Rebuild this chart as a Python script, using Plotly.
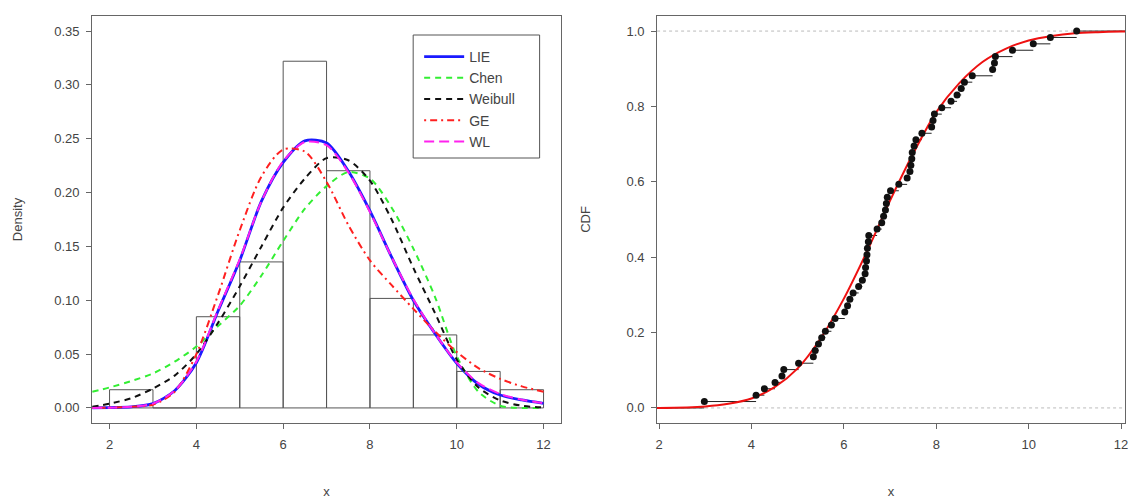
import plotly.graph_objects as go

# ---------------- data ----------------
# Left panel: histogram (density) with bins of width 1
hist_left_edges = [2, 3, 4, 5, 6, 7, 8, 9, 10, 11]
hist_density = [0.0169, 0.0, 0.0847, 0.1356, 0.3220, 0.2203, 0.1017, 0.0678, 0.0339, 0.0169]

# Fitted densities
dens_x = [1.6, 2, 2.5, 3, 3.5, 4, 4.5, 5, 5.5, 6, 6.5, 7, 7.5, 8, 8.5, 9, 9.5, 10, 10.5, 11, 11.5, 12]
pdf_lie = [0.0, 0.0003, 0.001, 0.004, 0.016, 0.042, 0.090, 0.137, 0.192, 0.228, 0.248, 0.246,
           0.220, 0.183, 0.140, 0.100, 0.069, 0.0415, 0.022, 0.012, 0.0074, 0.0043]
pdf_chen = [0.015, 0.019, 0.025, 0.032, 0.043, 0.057, 0.076, 0.095, 0.123, 0.155, 0.185, 0.206,
            0.219, 0.213, 0.186, 0.148, 0.103, 0.048, 0.015, 0.002, 0.0, 0.0]
pdf_weibull = [0.001, 0.004, 0.009, 0.018, 0.030, 0.050, 0.079, 0.113, 0.150, 0.186, 0.213, 0.232,
               0.230, 0.211, 0.175, 0.130, 0.088, 0.045, 0.019, 0.007, 0.002, 0.0005]
pdf_ge = [0.0, 0.0003, 0.001, 0.003, 0.015, 0.050, 0.105, 0.165, 0.215, 0.240, 0.238, 0.210,
          0.170, 0.137, 0.114, 0.092, 0.071, 0.052, 0.037, 0.027, 0.020, 0.015]
pdf_wl = [0.0, 0.0002, 0.001, 0.004, 0.016, 0.043, 0.091, 0.138, 0.192, 0.229, 0.247, 0.244,
          0.219, 0.182, 0.140, 0.101, 0.069, 0.042, 0.023, 0.013, 0.0076, 0.0045]

# Right panel: sorted observations (empirical CDF) and fitted CDF
ecdf_x = [2.98, 4.10, 4.28, 4.51, 4.66, 4.70, 5.02, 5.34, 5.38, 5.45, 5.52, 5.60, 5.73, 5.81,
          6.02, 6.08, 6.13, 6.20, 6.32, 6.40, 6.46, 6.47, 6.49, 6.50, 6.51, 6.53, 6.54, 6.72,
          6.82, 6.86, 6.90, 6.92, 6.94, 7.01, 7.19, 7.37, 7.43, 7.45, 7.47, 7.48, 7.52, 7.56,
          7.69, 7.90, 7.93, 7.96, 8.12, 8.32, 8.45, 8.54, 8.61, 8.78, 9.22, 9.26, 9.28, 9.65,
          10.10, 10.47, 11.04]
cdf_x = [1.95, 2, 3, 3.5, 4, 4.5, 5, 5.5, 6, 6.5, 7, 7.5, 8, 8.5, 9, 9.5, 10, 10.5, 11, 11.5, 12, 12.1]
cdf_lie = [0.0, 0.0, 0.004, 0.011, 0.025, 0.055, 0.105, 0.185, 0.290, 0.415, 0.550, 0.675,
           0.785, 0.862, 0.918, 0.953, 0.975, 0.987, 0.994, 0.997, 0.999, 0.999]

x_ticks = [2, 4, 6, 8, 10, 12]
density_ticks = [0.00, 0.05, 0.10, 0.15, 0.20, 0.25, 0.30, 0.35]
cdf_ticks = [0.0, 0.2, 0.4, 0.6, 0.8, 1.0]

# ---------------- figure ----------------
FONT = "Liberation Sans, Arial, Helvetica, sans-serif"
TXT = "#444444"
AX = "#666666"
W, H = 1131, 502

fig = go.Figure()

# histogram bars
fig.add_trace(go.Bar(
    x=[e + 0.5 for e in hist_left_edges], y=hist_density, width=1,
    marker=dict(color="rgba(255,255,255,0)", line=dict(color="#555555", width=1)),
    showlegend=False, hoverinfo="skip", xaxis="x", yaxis="y"))

curves = [
    ("LIE", pdf_lie, "#1a1aff", "solid", 2.8),
    ("Chen", pdf_chen, "#33ee33", "6px,5px", 2),
    ("Weibull", pdf_weibull, "#111111", "6px,5px", 2),
    ("GE", pdf_ge, "#ff2020", "2px,4px,7px,4px", 2),
    ("WL", pdf_wl, "#ff22ee", "10px,5px", 2),
]
for name, ys, col, dash, w in curves:
    fig.add_trace(go.Scatter(
        x=dens_x, y=ys, mode="lines", name=name,
        line=dict(color=col, dash=dash, width=w, shape="spline", smoothing=0.8),
        xaxis="x", yaxis="y"))

# ECDF: horizontal step segments
n = len(ecdf_x)
seg_x, seg_y = [], []
for i in range(n):
    nxt = ecdf_x[i + 1] if i + 1 < n else 12.1
    seg_x += [ecdf_x[i], nxt, None]
    seg_y += [(i + 1) / n, (i + 1) / n, None]
seg_x += [1.9, ecdf_x[0], None]
seg_y += [0, 0, None]
fig.add_trace(go.Scatter(x=seg_x, y=seg_y, mode="lines", line=dict(color="#222222", width=1),
                         showlegend=False, hoverinfo="skip", xaxis="x2", yaxis="y2"))

# reference lines at 0 and 1
for h in (0, 1):
    fig.add_shape(type="line", xref="x2 domain", yref="y2", x0=0, x1=1, y0=h, y1=h,
                  line=dict(color="#bbbbbb", width=1, dash="3px,3px"), layer="below")

# fitted CDF
fig.add_trace(go.Scatter(x=cdf_x, y=cdf_lie, mode="lines",
                         line=dict(color="#ee1111", width=2, shape="spline", smoothing=0.8),
                         showlegend=False, xaxis="x2", yaxis="y2"))
# ECDF points
fig.add_trace(go.Scatter(x=ecdf_x, y=[(i + 1) / n for i in range(n)], mode="markers",
                         marker=dict(color="#111111", size=7),
                         showlegend=False, xaxis="x2", yaxis="y2"))

# legend frame (R-style box around the legend)
fig.add_shape(type="rect", xref="paper", yref="paper",
              x0=413 / W, x1=540 / W, y0=1 - 158 / H, y1=1 - 35 / H,
              line=dict(color="#555555", width=1), fillcolor="white", layer="above")

axis_common = dict(showgrid=False, zeroline=False, showline=True, mirror=True,
                   linecolor=AX, linewidth=1, ticks="outside", ticklen=5,
                   tickcolor=AX, tickfont=dict(family=FONT, size=13, color=TXT),
                   ticklabeloverflow="allow")
title_font = dict(family=FONT, size=13, color=TXT)

ydom = [1 - 423 / H, 1 - 16 / H]
fig.update_layout(
    width=W, height=H,
    margin=dict(l=0, r=0, t=0, b=0),
    paper_bgcolor="white", plot_bgcolor="white",
    font=dict(family=FONT, size=13, color=TXT),
    xaxis=dict(domain=[90.6 / W, 561.4 / W], range=[1.6, 12.4], tickvals=x_ticks,
               anchor="y", ticklabelstandoff=4,
               title=dict(text="x", standoff=36, font=title_font),
               **axis_common),
    yaxis=dict(domain=ydom, range=[-0.014, 0.364], tickvals=density_ticks, tickformat=".2f",
               anchor="x", ticklabelstandoff=4,
               title=dict(text="Density", standoff=28, font=title_font),
               **axis_common),
    xaxis2=dict(domain=[658 / W, 1128 / W], range=[1.957, 12.086], tickvals=x_ticks,
                anchor="y2", ticklabelstandoff=4,
                title=dict(text="x", standoff=36, font=title_font),
                **axis_common),
    yaxis2=dict(domain=ydom, range=[-0.04, 1.04], tickvals=cdf_ticks, tickformat=".1f",
                anchor="x2", ticklabelstandoff=4,
                title=dict(text="CDF", standoff=32, font=title_font),
                **axis_common),
    legend=dict(x=419 / W, y=1 - 41 / H, xanchor="left", yanchor="top",
                bgcolor="rgba(0,0,0,0)", borderwidth=0,
                font=dict(family=FONT, size=14, color=TXT),
                itemwidth=40, tracegroupgap=0),
    showlegend=True,
)

fig.write_html("out.html", config={"displayModeBar": False},
               post_script="document.body.style.margin='0px';")
